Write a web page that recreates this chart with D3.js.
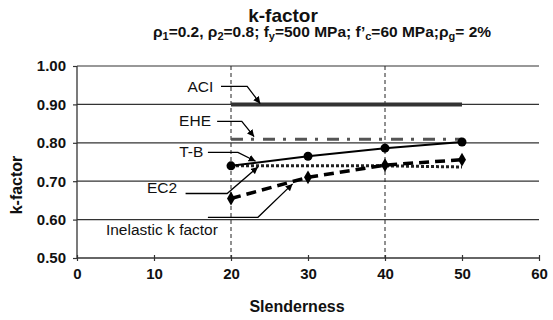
<!DOCTYPE html>
<html>
<head>
<meta charset="utf-8">
<script src="https://cdn.jsdelivr.net/npm/d3@7"></script>
<style>
    body { margin: 0; background: #fff; }
    svg { display: block; font-family: "Liberation Sans", Arial, sans-serif; }
</style>
</head>
<body>
<div id="chart"></div>
<script>
/******************************************************
 * k-factor vs slenderness
*******************************************************/

//! DATA
const slenderness = [20, 30, 40, 50];
const aciValues = [0.90, 0.90, 0.90, 0.90];
const eheValues = [0.809, 0.809, 0.809, 0.809];
const tbValues = [0.74, 0.765, 0.786, 0.802];
const ec2Values = [0.74, 0.74, 0.74, 0.737];
const inelasticValues = [0.655, 0.71, 0.742, 0.756];

const xTicks = [0, 10, 20, 30, 40, 50, 60];
const yTicks = [0.5, 0.6, 0.7, 0.8, 0.9, 1.0];
const refLines = [20, 40];

// label, text end x, text y, leader y, leader start x, elbow x, tip x, tip y
const annotations = [
    ["ACI", 17.7, 0.947, 0.947, 18.7, 22.1, 23.8, 0.902],
    ["EHE", 17.4, 0.858, 0.856, 18.2, 21.4, 23.0, 0.816],
    ["T-B", 16.4, 0.777, 0.775, 17.0, 20.9, 23.2, 0.752],
    ["EC2", 13.0, 0.684, 0.668, 14.1, 19.5, 23.5, 0.737],
    ["Inelastic k factor", 18.3, 0.574, 0.606, 17.0, 23.5, 28.0, 0.693]
];

//! CONSTANTS
const WIDTH = 553;
const HEIGHT = 320;
const AXIS_COLOR = "#333";

const svg = d3.select("#chart").append("svg")
    .attr("width", WIDTH)
    .attr("height", HEIGHT);

const x = d3.scaleLinear().domain([0, 60]).range([77, 539]);
const y = d3.scaleLinear().domain([0.5, 1.0]).range([258, 66]);

svg.append("defs").append("marker")
    .attr("id", "arrow")
    .attr("viewBox", "0 0 10 10")
    .attr("refX", 10).attr("refY", 5)
    .attr("markerWidth", 7).attr("markerHeight", 7)
    .attr("markerUnits", "userSpaceOnUse")
    .attr("orient", "auto")
    .append("path")
    .attr("d", "M0,0 L10,5 L0,10 z")
    .attr("fill", "#000");

// Gridlines
svg.selectAll(".grid")
    .data(yTicks.slice(1))
    .enter().append("line")
    .attr("x1", x(0)).attr("x2", x(60))
    .attr("y1", d => y(d)).attr("y2", d => y(d))
    .attr("stroke", AXIS_COLOR)
    .attr("stroke-width", 1.2);

// Vertical reference lines
svg.selectAll(".ref")
    .data(refLines)
    .enter().append("line")
    .attr("x1", d => x(d)).attr("x2", d => x(d))
    .attr("y1", y(1.0)).attr("y2", y(0.5))
    .attr("stroke", "#222")
    .attr("stroke-width", 1)
    .attr("stroke-dasharray", "4,3");

// Axes
const xAxis = svg.append("g")
    .attr("transform", `translate(0,${y(0.5)})`)
    .call(d3.axisBottom(x).tickValues(xTicks).tickSize(4).tickPadding(6).tickFormat(d3.format("d")));
xAxis.selectAll(".tick line").attr("y1", -3).attr("y2", 3);

const yAxis = svg.append("g")
    .attr("transform", `translate(${x(0)},0)`)
    .call(d3.axisLeft(y).tickValues(yTicks).tickSize(4).tickPadding(7).tickFormat(d3.format(".2f")));

[xAxis, yAxis].forEach(g => {
    g.select(".domain").attr("stroke", AXIS_COLOR).attr("stroke-width", 1.3).attr("d",
        g === xAxis ? `M${x(0)},0H${x(60)}` : `M0,${y(0.5)}V${y(1.0)}`);
    g.selectAll(".tick line").attr("stroke", AXIS_COLOR).attr("stroke-width", 1.2);
    g.selectAll(".tick text")
        .attr("fill", "#111")
        .style("font-size", "15px")
        .style("font-weight", "bold")
        .style("font-family", "'Liberation Sans', Arial, sans-serif");
});

// Series
const line = vals => d3.line()
    .x((d, i) => x(slenderness[i]))
    .y(d => y(d))(vals);

const series = [
    { vals: aciValues, color: "#333", width: 4, dash: null },
    { vals: eheValues, color: "#555", width: 3, dash: "12,8,3,9" },
    { vals: ec2Values, color: "#222", width: 3, dash: "3,2" },
    { vals: tbValues, color: "#000", width: 2, dash: null },
    { vals: inelasticValues, color: "#000", width: 3.5, dash: "10,6" }
];

svg.selectAll(".series")
    .data(series)
    .enter().append("path")
    .attr("d", d => line(d.vals))
    .attr("fill", "none")
    .attr("stroke", d => d.color)
    .attr("stroke-width", d => d.width)
    .attr("stroke-dasharray", d => d.dash);

svg.selectAll(".tbDot")
    .data(tbValues)
    .enter().append("circle")
    .attr("cx", (d, i) => x(slenderness[i]))
    .attr("cy", d => y(d))
    .attr("r", 4.5)
    .attr("fill", "#000");

svg.selectAll(".inDot")
    .data(inelasticValues)
    .enter().append("path")
    .attr("d", d3.symbol().type(d3.symbolDiamond).size(55))
    .attr("transform", (d, i) => `translate(${x(slenderness[i])},${y(d)})`)
    .attr("fill", "#000");

// Annotations
const ann = svg.selectAll(".ann")
    .data(annotations)
    .enter().append("g");

ann.append("text")
    .attr("x", d => x(d[1]))
    .attr("y", d => y(d[2]))
    .attr("dy", "0.35em")
    .attr("text-anchor", "end")
    .style("font-size", "15.5px")
    .attr("fill", "#111")
    .text(d => d[0]);

ann.append("path")
    .attr("d", d => `M${x(d[4])},${y(d[3])}H${x(d[5])}L${x(d[6])},${y(d[7])}`)
    .attr("fill", "none")
    .attr("stroke", "#000")
    .attr("stroke-width", 1.3)
    .attr("marker-end", "url(#arrow)");

// Titles
svg.append("text")
    .attr("x", 283).attr("y", 22)
    .attr("text-anchor", "middle")
    .style("font-size", "19px")
    .style("font-weight", "bold")
    .attr("fill", "#111")
    .text("k-factor");

const sub = svg.append("text")
    .attr("x", 322).attr("y", 37)
    .attr("text-anchor", "middle")
    .style("font-size", "15.5px")
    .style("font-weight", "bold")
    .attr("fill", "#111");

const subParts = [
    ["ρ", "1"], ["=0.2, ρ", "2"], ["=0.8; f", "y"], ["=500 MPa; f’", "c"],
    ["=60 MPa;ρ", "g"], ["= 2%", null]
];
let lowered = false;
subParts.forEach(p => {
    sub.append("tspan").attr("dy", lowered ? -3 : 0).text(p[0]);
    lowered = false;
    if (p[1]) {
        sub.append("tspan").attr("dy", 3).style("font-size", "11px").text(p[1]);
        lowered = true;
    }
});

svg.append("text")
    .attr("x", 297).attr("y", 312)
    .attr("text-anchor", "middle")
    .style("font-size", "16px")
    .style("font-weight", "bold")
    .attr("fill", "#111")
    .text("Slenderness");

svg.append("text")
    .attr("transform", "translate(22,185) rotate(-90)")
    .attr("text-anchor", "middle")
    .style("font-size", "16px")
    .style("font-weight", "bold")
    .attr("fill", "#111")
    .text("k-factor");
</script>
</body>
</html>
